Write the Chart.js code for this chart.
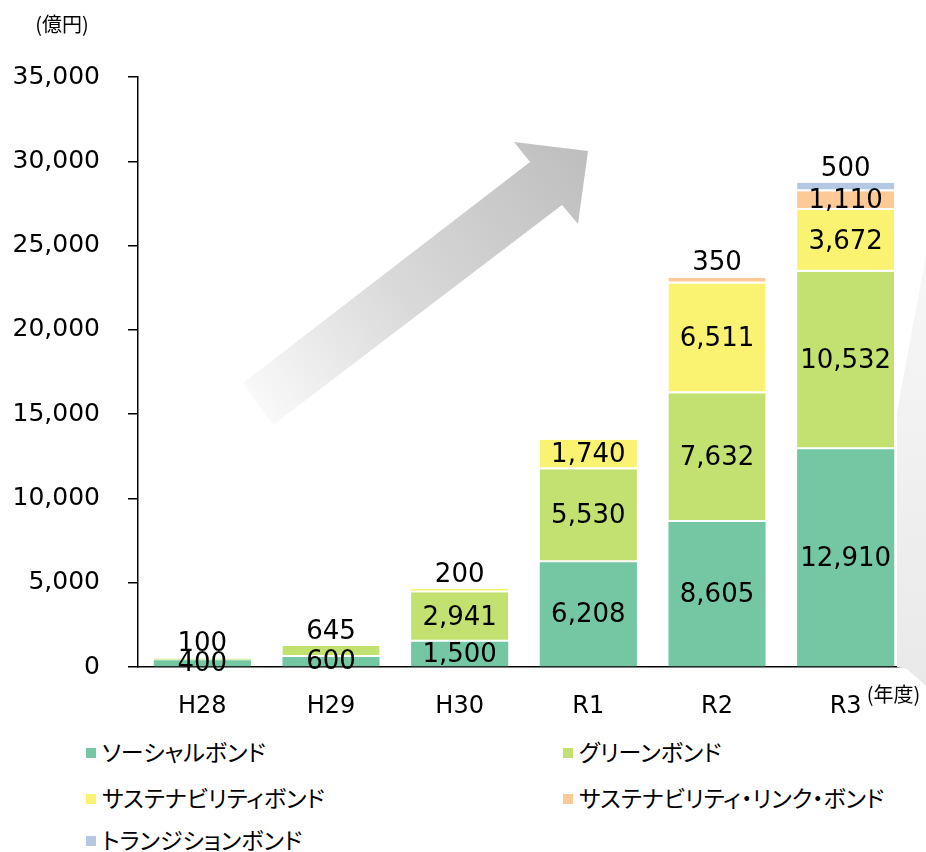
<!DOCTYPE html>
<html>
<head>
<meta charset="utf-8">
<script src="https://cdn.jsdelivr.net/npm/chart.js@4"></script>
<style>
  html, body { margin: 0; padding: 0; background: #fff; }
  #wrap { position: relative; width: 926px; height: 852px; }
  #bondChart { position: absolute; left: 0; top: 0; }
  .legend { position: absolute; font-family: "Noto Sans CJK JP", sans-serif; font-size: 23px; font-feature-settings: "palt"; color: #000; line-height: 1; white-space: nowrap; }
  .legend i { display: inline-block; width: 10px; height: 10px; margin-right: 6px; vertical-align: middle; position: relative; top: -2px; }
</style>
</head>
<body>
<div id="wrap">
  <canvas id="bondChart" width="926" height="730"></canvas>
  <div id="legendBox"></div>
</div>
<script>
const years = ['H28', 'H29', 'H30', 'R1', 'R2', 'R3']
const social = [400, 600, 1500, 6208, 8605, 12910]
const green = [100, 645, 2941, 5530, 7632, 10532]
const sustainability = [0, 0, 200, 1740, 6511, 3672]
const sustainabilityLink = [0, 0, 0, 0, 350, 1110]
const transition = [0, 0, 0, 0, 0, 500]
const seriesNames = ['ソーシャルボンド', 'グリーンボンド', 'サステナビリティボンド', 'サステナビリティ・リンク・ボンド', 'トランジションボンド']
const yTicks = [0, 5000, 10000, 15000, 20000, 25000, 30000, 35000]

const colors = ['#74c7a2', '#c3e170', '#faf271', '#fdc996', '#b5c8e3']
const fmt = (v) => v.toLocaleString('en-US')

// legend as plain html, two columns
const legendPos = [
  { left: 86, top: 740 }, { left: 563, top: 740 },
  { left: 86, top: 786 }, { left: 563, top: 786 },
  { left: 86, top: 828 }
]
const legendBox = document.getElementById('legendBox')
seriesNames.forEach((name, i) => {
  const d = document.createElement('div')
  d.className = 'legend'
  d.style.left = legendPos[i].left + 'px'
  d.style.top = legendPos[i].top + 'px'
  d.innerHTML = '<i style="background:' + colors[i] + '"></i>' + name
  legendBox.appendChild(d)
})

// big gray arrow and the side shape behind the bars
const decoPlugin = {
  id: 'deco',
  beforeDatasetsDraw(chart) {
    const ctx = chart.ctx
    ctx.save()
    let g = ctx.createLinearGradient(258, 404, 580, 160)
    g.addColorStop(0, '#f9f9f9')
    g.addColorStop(0.45, '#d9d9d9')
    g.addColorStop(1, '#bfbfbf')
    ctx.fillStyle = g
    ctx.beginPath()
    ctx.moveTo(243, 383)
    ctx.lineTo(530, 162)
    ctx.lineTo(514, 142)
    ctx.lineTo(588, 151)
    ctx.lineTo(578, 224)
    ctx.lineTo(562, 205)
    ctx.lineTo(273, 425)
    ctx.closePath()
    ctx.fill()

    g = ctx.createLinearGradient(0, 255, 0, 686)
    g.addColorStop(0, '#f7f7f7')
    g.addColorStop(1, '#e9e9e9')
    ctx.fillStyle = g
    ctx.beginPath()
    ctx.moveTo(926, 255)
    ctx.lineTo(897, 412)
    ctx.lineTo(897, 667)
    ctx.lineTo(907, 669)
    ctx.lineTo(926, 686)
    ctx.closePath()
    ctx.fill()
    ctx.restore()
  },
  afterDraw(chart) {
    const ctx = chart.ctx
    const xs = chart.scales.x
    ctx.save()
    // unit labels
    ctx.fillStyle = '#000'
    ctx.font = '20px "Noto Sans CJK JP"'
    ctx.textAlign = 'center'
    ctx.textBaseline = 'middle'
    ctx.fillText('(億円)', 62, 24)
    ctx.font = '24px "DejaVu Sans"'
    const last = years.length - 1
    const w = ctx.measureText(years[last]).width
    ctx.font = '20px "Noto Sans CJK JP"'
    ctx.textAlign = 'left'
    ctx.fillText('(年度)', xs.getPixelForValue(last) + w / 2 + 5, 694)
    ctx.restore()
  }
}

// value labels: centered in each segment, small top segments sit above the stack
const valueLabels = {
  id: 'valueLabels',
  afterDatasetsDraw(chart) {
    const ctx = chart.ctx
    ctx.save()
    ctx.font = '26px "DejaVu Sans"'
    ctx.fillStyle = '#000'
    ctx.textAlign = 'center'
    chart.data.datasets.forEach((ds, di) => {
      const meta = chart.getDatasetMeta(di)
      meta.data.forEach((bar, i) => {
        const v = ds.data[i]
        if (!v) return
        let isTop = true
        for (let k = di + 1; k < chart.data.datasets.length; k++) {
          if (chart.data.datasets[k].data[i] > 0) isTop = false
        }
        if (isTop && v < 1000) {
          ctx.textBaseline = 'bottom'
          ctx.fillText(fmt(v), bar.x, bar.y - 1)
        } else {
          ctx.textBaseline = 'middle'
          ctx.fillText(fmt(v), bar.x, (bar.y + bar.base) / 2 + 1)
        }
      })
    })
    ctx.restore()
  }
}

const seriesData = [social, green, sustainability, sustainabilityLink, transition]
const datasets = seriesData.map((d, i) => ({
  label: seriesNames[i],
  data: d,
  backgroundColor: colors[i],
  borderColor: '#ffffff',
  borderWidth: i === 0 ? 0 : { top: 0, left: 0, right: 0, bottom: 2 },
  borderSkipped: false,
  barPercentage: 0.755,
  categoryPercentage: 1
}))

new Chart(document.getElementById('bondChart'), {
  type: 'bar',
  data: { labels: years, datasets: datasets },
  plugins: [decoPlugin, valueLabels],
  options: {
    responsive: false,
    animation: false,
    devicePixelRatio: 1,
    layout: { padding: { top: 77, right: 16, left: 0, bottom: 0 } },
    plugins: {
      legend: { display: false },
      tooltip: { enabled: false }
    },
    scales: {
      x: {
        stacked: true,
        afterFit(scale) { scale.height = 63 },
        grid: { display: false, drawTicks: false },
        border: { display: true, color: '#000', width: 1.5 },
        ticks: { color: '#000', padding: 25, font: { family: 'DejaVu Sans', size: 24 } }
      },
      y: {
        stacked: true,
        min: 0,
        max: 35000,
        afterFit(scale) { scale.width = 138 },
        afterBuildTicks(scale) { scale.ticks = yTicks.map(v => ({ value: v })) },
        grid: { drawOnChartArea: false, drawTicks: true, tickLength: 10, color: '#000', lineWidth: 1.5 },
        border: { display: true, color: '#000', width: 1.5 },
        ticks: {
          color: '#000',
          padding: 28,
          font: { family: 'DejaVu Sans', size: 25 },
          callback: (v) => fmt(v)
        }
      }
    }
  }
})
</script>
</body>
</html>
